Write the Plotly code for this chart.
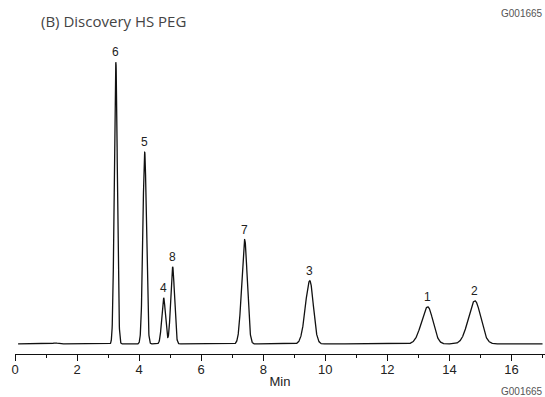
import numpy as np
import plotly.graph_objects as go

# Peak table
peak_labels = ["6", "5", "4", "8", "7", "3", "1", "2"]
retention_min = [3.25, 4.18, 4.79, 5.08, 7.40, 9.50, 13.30, 14.82]
peak_height = [281, 191, 46, 77, 104, 63, 37, 43]
sigma_left = [0.050, 0.058, 0.060, 0.062, 0.095, 0.140, 0.200, 0.210]
sigma_right = [0.048, 0.055, 0.058, 0.060, 0.085, 0.115, 0.170, 0.190]

# small baseline disturbances
bump_time = [1.30, 1.95, 2.45]
bump_height = [1.0, 0.6, 0.6]
bump_sigma = [0.08, 0.06, 0.06]

x_ticks = [0, 2, 4, 6, 8, 10, 12, 14, 16]

t = np.linspace(0.1, 17.0, 4000)
signal = np.zeros_like(t)
for rt, h, sl, sr in zip(retention_min, peak_height, sigma_left, sigma_right):
    s = np.where(t < rt, sl, sr)
    signal += h * np.exp(-0.5 * ((t - rt) / s) ** 2)
for rt, h, s in zip(bump_time, bump_height, bump_sigma):
    signal += h * np.exp(-0.5 * ((t - rt) / s) ** 2)

fig = go.Figure()
fig.add_trace(go.Scatter(x=t, y=signal, mode="lines",
                         line=dict(color="#111111", width=1.3),
                         hoverinfo="skip", showlegend=False))

for lab, rt, h in zip(peak_labels, retention_min, peak_height):
    fig.add_annotation(x=rt, y=h, text=lab, showarrow=False, yanchor="bottom",
                       yshift=1, font=dict(family="Liberation Sans, Arial", size=12, color="#222222"))

fig.add_annotation(xref="paper", yref="paper", x=0.045, y=1.0, yshift=32,
                   text="(B) Discovery HS PEG", showarrow=False, xanchor="left", yanchor="middle",
                   font=dict(family="Open Sans, Lato, sans-serif", size=15, color="#444444"))
fig.add_annotation(xref="paper", yref="paper", x=1.0, y=1.0, yshift=40,
                   text="G001665", showarrow=False, xanchor="right", yanchor="middle",
                   font=dict(family="Liberation Sans, Arial", size=10, color="#555555"))
fig.add_annotation(xref="paper", yref="paper", x=1.0, y=0.0, yshift=-37,
                   text="G001665", showarrow=False, xanchor="right", yanchor="middle",
                   font=dict(family="Liberation Sans, Arial", size=10, color="#555555"))

fig.update_layout(
    width=545, height=397,
    margin=dict(l=15, r=0, t=53, b=43),
    paper_bgcolor="white", plot_bgcolor="white",
    xaxis=dict(range=[0, 17.08], tickvals=x_ticks, ticks="outside", ticklen=6,
               tickwidth=1, tickcolor="#111111", showline=True, linecolor="#111111",
               linewidth=1, showgrid=False, zeroline=False, ticklabelstandoff=-3,
               minor=dict(dtick=1, tick0=0, ticks="outside", ticklen=3, tickcolor="#111111", tickwidth=1),
               tickfont=dict(family="Liberation Sans, Arial", size=13, color="#222222"),
               title=dict(text="Min", standoff=1,
                          font=dict(family="Liberation Sans, Arial", size=13, color="#222222"))),
    yaxis=dict(range=[-10, 290], visible=False, showgrid=False, zeroline=False),
)

fig.write_html("out.html")
